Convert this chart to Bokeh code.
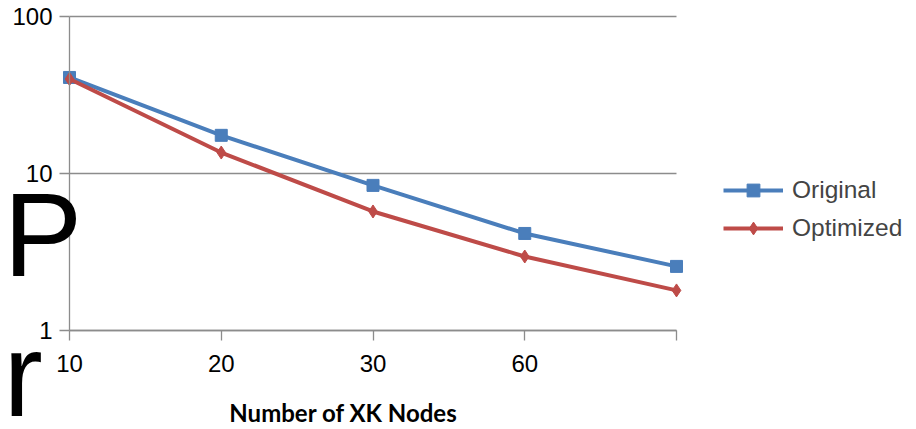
import numpy as np
from bokeh.plotting import figure
from bokeh.models import FixedTicker, Label, Legend, LegendItem, Range1d, PrintfTickFormatter, Grid
from bokeh.embed import file_html
from bokeh.resources import INLINE

categories = ["10", "20", "30", "60", ""]
original = [40.9, 17.5, 8.4, 4.15, 2.56]
optimized = [40.0, 13.6, 5.73, 2.96, 1.80]
y_ticks = [1, 10, 100]
x_title = "Number of XK Nodes"
y_title_chars = ["P", "r"]

W, H = 916, 429
# frame covers whole canvas; axes are pinned inside it
left_px, right_px = 69, 676
top_px, bottom_px = 16, 330
xs = list(range(len(categories)))
n = len(categories) - 1
ppu = (right_px - left_px) / n
x0 = -left_px / ppu
x1 = n + (W - right_px) / ppu
ppd = (bottom_px - top_px) / 2.0
y0 = 10 ** (-(H - bottom_px) / ppd)
y1 = 10 ** (2 + top_px / ppd)

p = figure(width=W, height=H, output_backend="svg", toolbar_location=None,
           y_axis_type="log", x_range=Range1d(x0, x1), y_range=Range1d(y0, y1))
p.min_border_left = 0
p.min_border_right = 0
p.min_border_top = 0
p.min_border_bottom = 0
p.outline_line_color = None
p.background_fill_color = "white"
p.border_fill_color = "white"

gray = "#8c8c8c"
font = "Liberation Sans"

p.xaxis.fixed_location = 1
p.xaxis.bounds = (0, n)
p.xaxis.ticker = FixedTicker(ticks=xs)
p.xaxis.major_label_overrides = {i: c for i, c in enumerate(categories)}
p.xaxis.axis_line_color = gray
p.xaxis.axis_line_width = 1.3
p.xaxis.major_tick_line_color = gray
p.xaxis.major_tick_line_width = 1.3
p.xaxis.major_tick_out = 10
p.xaxis.major_tick_in = 0
p.xaxis.minor_tick_line_color = None
p.xaxis.major_label_text_font = font
p.xaxis.major_label_text_font_size = "24px"
p.xaxis.major_label_text_color = "black"
p.xaxis.major_label_standoff = 14

p.yaxis.fixed_location = 0
p.yaxis.bounds = (1, 100)
p.yaxis.ticker = FixedTicker(ticks=y_ticks)
p.yaxis.formatter = PrintfTickFormatter(format="%d")
p.yaxis.axis_line_color = gray
p.yaxis.axis_line_width = 1.3
p.yaxis.major_tick_line_color = gray
p.yaxis.major_tick_line_width = 1.3
p.yaxis.major_tick_out = 10
p.yaxis.major_tick_in = 0
p.yaxis.minor_tick_line_color = None
p.yaxis.major_label_text_font = font
p.yaxis.major_label_text_font_size = "24px"
p.yaxis.major_label_text_color = "black"
p.yaxis.major_label_standoff = 7

p.xgrid.grid_line_color = None
p.ygrid.grid_line_color = gray
p.ygrid.grid_line_width = 1.3
if "cross_bounds" in Grid.properties():
    p.ygrid.cross_bounds = (0, n)

blue = "#4A7EBB"
red = "#BE4B48"
l1 = p.line(xs, original, line_color=blue, line_width=4)
m1 = p.scatter(xs, original, marker="square", size=12, fill_color=blue, line_color=blue)
l2 = p.line(xs, optimized, line_color=red, line_width=4)
m2 = p.scatter(xs, optimized, marker="diamond", size=13, fill_color=red, line_color=red)

legend = Legend(items=[LegendItem(label="Original", renderers=[l1, m1]),
                       LegendItem(label="Optimized", renderers=[l2, m2])],
                location=(723, 185), orientation="vertical",
                label_text_font=font, label_text_font_size="24.5px",
                glyph_width=60, glyph_height=32, spacing=6,
                background_fill_alpha=0, border_line_color=None,
                padding=0, margin=0, label_standoff=9)
p.add_layout(legend, "center")

p.add_layout(Label(x=343, y=3, x_units="screen", y_units="screen", text=x_title,
                   text_font="Lato", text_font_style="bold", text_font_size="24px",
                   text_color="black", text_align="center", text_baseline="bottom"))
p.add_layout(Label(x=3, y=195, x_units="screen", y_units="screen", text=y_title_chars[0],
                   text_color="black", text_font=font, text_font_size="118px",
                   text_baseline="alphabetic"))
p.add_layout(Label(x=3, y=55, x_units="screen", y_units="screen", text=y_title_chars[1],
                   text_color="black", text_font=font, text_font_size="118px",
                   text_baseline="alphabetic"))

open("out.html", "w").write(file_html(p, INLINE))
